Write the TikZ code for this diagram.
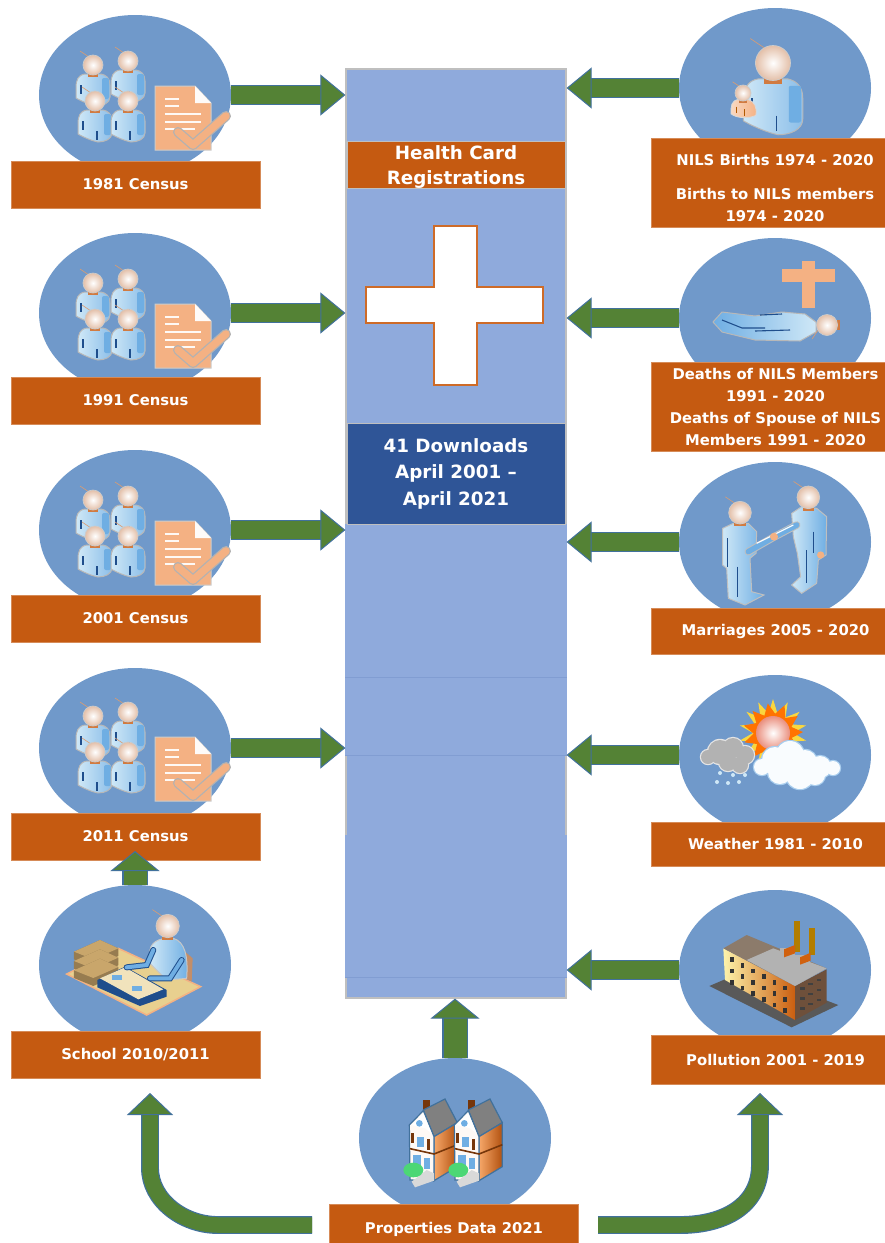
\documentclass[tikz,border=0pt]{standalone}
\usepackage{fontspec}
\setmainfont{DejaVu Sans}
\usetikzlibrary{arrows.meta,shapes.geometric,calc}
\definecolor{disc}{HTML}{7099CA}
\definecolor{colblue}{HTML}{8FAADC}
\definecolor{burnt}{HTML}{C55A11}
\definecolor{navy}{HTML}{2F5597}
\definecolor{leaf}{HTML}{548235}
\definecolor{rim}{HTML}{41719C}
\definecolor{peach}{HTML}{F4B183}
\definecolor{skin}{HTML}{E3BFA8}
\definecolor{pale}{HTML}{CFE8F7}
\definecolor{midblue}{HTML}{6FAEE3}
\definecolor{deep}{HTML}{1F4E8C}
\definecolor{desk}{HTML}{E8D08F}
\definecolor{booktan}{HTML}{C9A66B}
\definecolor{roofbrown}{HTML}{8C7B6B}
\tikzset{
  discnode/.style={ellipse,fill=disc,minimum width=192,minimum height=160,inner sep=0},
  lbl/.style={rectangle,fill=burnt,draw=burnt!70!white,line width=.5,text=white,minimum width=249,inner sep=0,align=center,
     font=\fontsize{14.8}{22}\selectfont\bfseries},
  lbltxt/.style={text=white,inner sep=0,align=center,font=\fontsize{14.8}{22}\selectfont\bfseries},
  colnode/.style={rectangle,fill=colblue,draw=black!25,line width=1.2,minimum width=220,inner sep=0},
  colsub/.style={rectangle,fill=colblue,minimum width=221.4,inner sep=0},
  faint/.style={draw=colblue!85!navy,line width=1},
  sidearrow/.style={line width=1.2,draw=rim,double=leaf,double distance=18.5,
     -{Triangle[width=41,length=25,fill=leaf,color=rim,line width=1]}},
  uparrow/.style={line width=1.2,draw=rim,double=leaf,double distance=23,
     -{Triangle[width=49,length=20,fill=leaf,color=rim,line width=1]}},
  curvearrow/.style={line width=1.2,draw=rim,double=leaf,double distance=15.5,
     -{Triangle[width=46,length=22,fill=leaf,color=rim,line width=1]}},
}
% head: centre at origin of the enclosing scope, radius 10
\newcommand\headicon{%
  \draw[line width=.6,draw=burnt!60!white] (-4,-8) -- (-13,-14);
  \fill[burnt!80!white] (-5,7) rectangle (5,12);
  \shadedraw[inner color=white,outer color=skin,draw=black!20,line width=.7] (0,0) circle (10);
}
\newcommand\personicon[3]{\begin{scope}[shift={(#1,#2)},scale=#3]
  \shadedraw[left color=pale,right color=midblue!80,draw=black!28,line width=1]
    (-8,9) .. controls (-15,10) and (-17,15) .. (-17,23) -- (-17,33)
    .. controls (-10,37) and (-2,40) .. (3,41) .. controls (10,41) and (17,38) .. (17,32)
    -- (17,20) .. controls (17,13) and (13,10) .. (8,9) -- cycle;
  \fill[midblue,rounded corners=2] (9,13) rectangle (16,34);
  \draw[deep,line width=1.1] (-12,20) -- (-12,29) (2,30) -- (2,39);
  \headicon
\end{scope}}
\newcommand\censusicon[2]{\begin{scope}[shift={(#1,#2)}]
  \personicon{-42}{-30}{1}
  \personicon{-7}{-34}{1}
  \personicon{-40}{6}{1}
  \personicon{-7}{6}{1}
  \draw[fill=peach,draw=black!20,line width=1] (20,-9) -- (60,-9) -- (76,8) -- (76,55) -- (20,55) -- cycle;
  \fill[white!95!peach] (60,-9) -- (76,8) -- (60,8) -- cycle;
  \draw[white!92!peach,line width=1.3] (30,4) -- (44,4) (30,11) -- (44,11) (30,19) -- (66,19) (30,27) -- (66,27) (30,34) -- (60,34);
  \draw[black!30,line width=10,line cap=round,line join=round] (43,37) -- (58,50) -- (91,21);
  \draw[peach,line width=7.5,line cap=round,line join=round] (43,37) -- (58,50) -- (91,21);
\end{scope}}
\newcommand\cloudicon[3]{% list of circles, fill, rim
  \foreach \px/\py/\pr in {#1} \fill[#3] (\px,\py) circle ({\pr+1.2});
  \foreach \px/\py/\pr in {#1} \fill[#2] (\px,\py) circle (\pr);
}
\newcommand\houseicon[1]{\begin{scope}[shift={(#1,950)},scale=1/3]
  \fill[burnt!60!black] (280,450) rectangle (300,480);
  \draw[rim,line width=1.2,fill=black!50] (280,480) -- (345,447) -- (382,518) -- (312,560) -- cycle;
  \draw[rim,line width=1.2,left color=peach!80!orange,right color=burnt!90!black] (312,560) -- (382,518) -- (382,650) -- (312,692) -- cycle;
  \draw[rim,line width=1.2,fill=white!92!peach] (238,525) -- (280,482) -- (312,560) -- (312,692) -- (240,690) -- cycle;
  \fill[white] (245,525) -- (280,490) -- (305,550) -- (285,535) -- cycle;
  \fill[midblue] (262,560) rectangle (282,592);
  \fill[midblue] (268,520) circle (10);
  \fill[burnt!60!black] (242,548) rectangle (252,580);
  \fill[burnt!60!black] (290,568) rectangle (300,600);
  \draw[burnt!60!black,line width=1.6] (240,596) -- (312,612) -- (382,584);
  \fill[midblue] (250,615) rectangle (272,650);
  \fill[midblue] (283,625) rectangle (300,658);
  \fill[white!85!black] (245,695) -- (290,660) -- (312,670) -- (312,692) -- (255,712) -- cycle;
  \fill[green!55!teal!70!white] (250,660) ellipse (30 and 22);
\end{scope}}
\begin{document}
\begin{tikzpicture}[x=1pt,y=-1pt]
\useasboundingbox (0,0) rectangle (885,1243);
\clip (0,0) rectangle (885,1243);
\fill[white] (0,0) rectangle (885,1243);

% central column
\node[colnode,minimum height=929] (col) at (456,533.5) {};
\node[colsub,minimum height=154] (seg0) at (456,601) {};
\node[colsub,minimum height=77] (seg1) at (456,716.5) {};
\node[colsub,minimum height=142] (seg2) at (456,906) {};
\draw[faint] (seg1.north west) -- (seg1.north east);
\draw[faint] (seg1.south west) -- (seg1.south east);
\draw[faint] (seg2.south west) -- (seg2.south east);
\node[rectangle,fill=burnt,draw=black!25,line width=.8,minimum width=218,minimum height=46,inner sep=0,text=white,align=center,
  font=\fontsize{18.3}{25}\selectfont\bfseries] (hc) at (456,165) {\rule{0pt}{18pt}Health Card\\Registrations};
\node[rectangle,fill=navy,draw=black!25,line width=.8,minimum width=218,minimum height=101,inner sep=0,text=white,align=center,
  font=\fontsize{18.3}{26.5}\selectfont\bfseries] (dl) at (456,473.5) {41 Downloads\\April 2001 --\\April 2021};
\draw[fill=white,draw=burnt!80!peach,line width=1.5]
  (434,226) -- (477,226) -- (477,287) -- (543,287) -- (543,323) -- (477,323) -- (477,385) -- (434,385) -- (434,323) -- (366,323) -- (366,287) -- (434,287) -- cycle;

% discs
\node[discnode] (d81) at (135,95) {};
\node[discnode] (d91) at (135,313) {};
\node[discnode] (d01) at (135,530) {};
\node[discnode] (d11) at (135,748) {};
\node[discnode] (dsc) at (135,965) {};
\node[discnode] (dbi) at (775,88) {};
\node[discnode] (dde) at (775,318) {};
\node[discnode] (dma) at (775,542) {};
\node[discnode] (dwe) at (775,755) {};
\node[discnode] (dpo) at (775,970) {};
\node[discnode] (dpr) at (455,1138) {};

% census icons
\censusicon{135}{95}
\censusicon{135}{313}
\censusicon{135}{530}
\censusicon{135}{746}

% births icon
\personicon{773}{63}{1.75}
\begin{scope}[shift={(743,93)},scale=.8]
  \shadedraw[left color=peach!50!white,right color=peach,draw=black!15,line width=.8]
    (-6,8) .. controls (-15,10) and (-15,16) .. (-15,26) .. controls (-8,32) and (8,32) .. (16,28) .. controls (18,18) and (14,10) .. (6,8) -- cycle;
  \draw[orange!70!black,line width=1.3] (-8,17) -- (-8,25) (2,20) -- (2,29);
  \headicon
\end{scope}

% deaths icon
\fill[peach] (802,261) rectangle (815,308);
\fill[peach] (782,269) rectangle (835,282);
\shadedraw[left color=midblue,right color=pale,draw=black!28,line width=1]
  (713,322) -- (722,312) -- (755,316) -- (782,312) -- (805,314) -- (816,322) -- (816,332)
  -- (800,341) -- (755,340) -- (722,332) -- cycle;
\draw[deep,line width=1.1] (722,320) -- (742,328) -- (765,328) (760,315) -- (782,314) (755,331) -- (790,330);
\begin{scope}[shift={(827,325)},rotate=90,scale=1.05]\headicon\end{scope}

% marriage icon
\begin{scope}[shift={(560,460)},scale=1/3]
  \shadedraw[left color=pale,right color=midblue,draw=black!25,line width=1]
    (488,205) -- (520,190) -- (565,190) -- (590,215) -- (588,280) -- (570,295) -- (575,395) -- (612,405) -- (555,435) -- (505,415) -- (500,325) -- (488,315) -- cycle;
  \shadedraw[left color=pale,right color=midblue,draw=black!25,line width=1]
    (695,160) -- (725,140) -- (770,145) -- (800,170) -- (798,285) -- (775,300) -- (770,370) -- (725,400) -- (695,375) -- (722,350) -- (712,280) -- (700,230) -- cycle;
  \draw[black!25,line width=7.5,line cap=round] (565,275) -- (640,232) -- (710,195);
  \draw[midblue,line width=5.5,line cap=round] (565,275) -- (640,232) -- (710,195);
  \draw[white,line width=1.2] (590,250) -- (640,225) -- (700,195);
  \fill[peach] (642,230) circle (12);
  \fill[peach] (782,285) circle (11);
  \draw[deep,line width=1] (503,235) -- (503,320) (533,320) -- (533,410) (760,215) -- (760,280) (738,270) -- (738,370);
  \begin{scope}[shift={(540,158)},scale=3.4]\headicon\end{scope}
  \begin{scope}[shift={(745,112)},scale=3.4]\headicon\end{scope}
\end{scope}

% weather icon
\node[star,star points=14,star point ratio=1.7,fill=yellow!55!peach,minimum size=68,inner sep=0] (rays2) at (773,733) {};
\node[star,star points=11,star point ratio=1.55,fill=orange!90!red,minimum size=60,inner sep=0,rotate=10] (rays) at (773,733) {};
\shade[inner color=white,outer color=red!25!skin] (773,733) circle (17);
\cloudicon{708/757/7, 720/752/12, 733/748/10, 745/755/9, 728/762/9, 740/765/8}{black!30}{white!90!black}
\foreach \dx/\dy in {717/782,728/783,739/782,720/773,733/775,745/775}
  \fill[pale] (\dx,\dy) circle (2);
\cloudicon{762/767/8, 775/760/13, 790/755/14, 805/762/12, 820/767/11, 833/768/7, 800/775/14, 780/772/12, 815/775/10}{white!88!pale}{midblue!60!white}

% factory icon
\begin{scope}[shift={(560,880)},scale=1/3]
  \fill[black!65] (448,318) -- (560,270) -- (835,375) -- (695,442) -- cycle;
  \shade[left color=yellow!30!white!85!peach,right color=burnt!90!orange] (490,205) -- (705,318) -- (705,420) -- (495,300) -- cycle;
  \fill[black!55!peach] (705,318) -- (800,268) -- (800,368) -- (705,420) -- cycle;
  \fill[roofbrown] (490,205) -- (560,165) -- (800,265) -- (705,318) -- cycle;
  \fill[black!30] (560,240) -- (640,205) -- (800,265) -- (705,318) -- cycle;
  \fill[orange!60!yellow!70!black] (702,122) rectangle (720,215);
  \fill[orange!60!yellow!70!black] (746,145) rectangle (765,225);
  \fill[white!70!black] (660,205) rectangle (705,245);
  \fill[white!70!black] (705,225) rectangle (750,265);
  \fill[burnt!80!orange] (672,208) -- (705,195) -- (705,220) -- (672,232) -- cycle;
  \fill[burnt!80!orange] (720,232) -- (752,218) -- (752,242) -- (720,254) -- cycle;
  \foreach \r in {0,1,2} \foreach \c in {0,1,2,3,4,5}
    \fill[black!80] ({510+\c*32},{232+\c*17+\r*34}) rectangle ++(11,14);
  \foreach \r in {0,1,2} \foreach \c in {0,1,2}
    \fill[black!75] ({720+\c*25},{322-\c*13+\r*30}) rectangle ++(14,7);
\end{scope}

% school icon
\begin{scope}[shift={(0,850)},scale=1/3]
  \draw[fill=desk,draw=peach,line width=1.5] (200,372) -- (355,295) -- (602,410) -- (440,495) -- cycle;
  \fill[peach!80!black] (555,305) -- (578,325) -- (575,395) -- (555,385) -- cycle;
  \shadedraw[left color=pale,right color=midblue,draw=black!22,line width=1]
    (450,300) .. controls (455,270) and (490,262) .. (520,265) .. controls (555,275) and (565,320) .. (560,385) -- (500,390) -- (450,340) -- cycle;
  \foreach \sy in {0,28,56} {
    \fill[booktan!75!black] (222,{305+\sy}) -- (300,{270+\sy}) -- (355,{295+\sy}) -- (355,{318+\sy}) -- (280,{352+\sy}) -- (222,{328+\sy}) -- cycle;
    \fill[booktan] (222,{305+\sy}) -- (300,{270+\sy}) -- (355,{295+\sy}) -- (280,{328+\sy}) -- cycle;
  }
  \fill[deep] (292,390) -- (375,350) -- (500,420) -- (500,440) -- (420,468) -- (292,412) -- cycle;
  \fill[desk!60!white] (300,385) -- (375,352) -- (490,418) -- (415,448) -- cycle;
  \foreach \kx/\ky in {335/375,395/408} \fill[midblue] (\kx,\ky) rectangle ++(30,15);
  \draw[deep,line width=6,line cap=round] (380,352) -- (440,345) -- (460,300);
  \draw[midblue,line width=4,line cap=round] (380,352) -- (440,345) -- (460,300);
  \draw[deep,line width=6,line cap=round] (450,385) -- (510,385) -- (545,330);
  \draw[midblue,line width=4,line cap=round] (450,385) -- (510,385) -- (545,330);
  \begin{scope}[shift={(503,228)},scale=3.5]\headicon\end{scope}
\end{scope}

% house icons
\houseicon{330}
\houseicon{375}

% label boxes
\node[lbl,minimum height=47] (l81) at (135.5,184.5) {1981 Census};
\node[lbl,minimum height=47] (l91) at (135.5,400.5) {1991 Census};
\node[lbl,minimum height=47] (l01) at (135.5,618.5) {2001 Census};
\node[lbl,minimum height=47] (l11) at (135.5,836.5) {2011 Census};
\node[lbl,minimum height=47] (lsc) at (135.5,1054.5) {School 2010/2011};
\node[lbl,minimum height=89] (lbi) at (775.5,182.5) {};
\node[lbltxt] (tbi) at (775,188) {NILS Births 1974 - 2020\\[12pt]Births to NILS members\\1974 - 2020};
\node[lbl,minimum height=89] (lde) at (775.5,406.5) {Deaths of NILS Members\\1991 - 2020\\Deaths of Spouse of NILS\\Members 1991 - 2020};
\node[lbl,minimum height=46] (lma) at (775.5,631) {Marriages 2005 - 2020};
\node[lbl,minimum height=44] (lwe) at (775.5,844) {Weather 1981 - 2010};
\node[lbl,minimum height=49] (lpo) at (775.5,1059.5) {Pollution 2001 - 2019};
\node[lbl,minimum height=50] (lpr) at (454,1229) {Properties Data 2021};

% free connector ends
\coordinate (tipschool) at (135,851);
\coordinate (curveL) at (312,1225);
\coordinate (curveR) at (598,1225);
\coordinate (tipL) at (150,1093);
\coordinate (tipR) at (760,1093);

% connectors
\draw[sidearrow] (d81.east) -- (d81.east -| col.west);
\draw[sidearrow] (d91.east) -- (d91.east -| col.west);
\draw[sidearrow] (d01.east) -- (d01.east -| col.west);
\draw[sidearrow] (d11.east) -- (d11.east -| col.west);
\draw[sidearrow] (dbi.west) -- (dbi.west -| col.east);
\draw[sidearrow] (dde.west) -- (dde.west -| col.east);
\draw[sidearrow] (dma.west) -- (dma.west -| col.east);
\draw[sidearrow] (dwe.west) -- (dwe.west -| col.east);
\draw[sidearrow] (dpo.west) -- (dpo.west -| col.east);
\draw[uparrow] (dsc.north) -- (tipschool);
\draw[uparrow] (dpr.north) -- (dpr.north |- col.south);
\draw[curvearrow] (curveL) -- ++(-94,0) .. controls +(-35,0) and (150,1200) .. (150,1168) -- (tipL);
\draw[curvearrow] (curveR) -- ++(82,0) .. controls +(45,0) and (760,1205) .. (760,1165) -- (tipR);
\end{tikzpicture}
\end{document}
